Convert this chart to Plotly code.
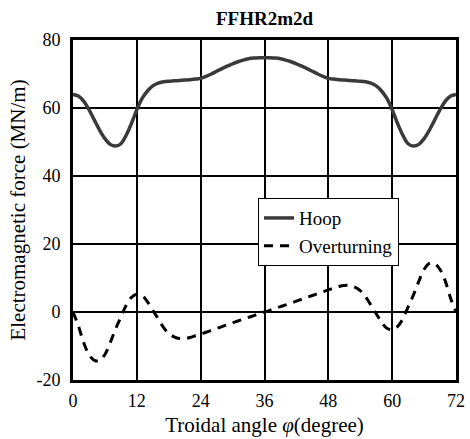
import plotly.graph_objects as go

angle = list(range(0, 73))

hoop_half = [64, 63.5, 62, 59.5, 56.5, 53.5, 51, 49.3, 48.8, 49.5, 52, 55.5, 59.5,
             62.8, 65, 66.5, 67.3, 67.7, 67.9, 68, 68.1, 68.2, 68.3, 68.5, 68.7,
             69.3, 70, 70.8, 71.6, 72.3, 73, 73.6, 74.1, 74.5, 74.7, 74.8, 74.8]
hoop = hoop_half + hoop_half[-2::-1]

over_half = [0, -4, -9, -12.5, -14.2, -14.3, -12.5, -9, -5, -1.5, 2, 4.3, 5.2,
             4.8, 3, 0.5, -2, -4.5, -6.3, -7.3, -7.8, -7.8, -7.5, -7, -6.5,
             -5.95, -5.4, -4.85, -4.3, -3.75, -3.2, -2.65, -2.1, -1.6, -1.05, -0.5, 0]
overturning = over_half + [-v for v in over_half[-2::-1]]

x_ticks = [0, 12, 24, 36, 48, 60, 72]
y_ticks = [-20, 0, 20, 40, 60, 80]
y_tick_text = ["-20", "0", "20", "40", "60", "80"]

serif = "Liberation Serif, Times New Roman, serif"

W, H = 470, 439
L, R, T, B = 73, 14, 40, 59

fig = go.Figure()
fig.add_trace(go.Scatter(x=angle, y=hoop, mode="lines", name="Hoop",
                         line=dict(color="#3a3a3a", width=3.5, shape="spline")))
fig.add_trace(go.Scatter(x=angle, y=overturning, mode="lines", name="Overturning",
                         line=dict(color="black", width=3, shape="spline", dash="9px,7px")))

fig.update_layout(
    template="none",
    width=W, height=H,
    margin=dict(l=L, r=R, t=T, b=B, autoexpand=False),
    paper_bgcolor="white", plot_bgcolor="white",
    font=dict(family=serif, color="black", size=18),
    title=dict(text="<b>FFHR2m2d</b>", x=(L + W - R) / 2 / W, xanchor="center",
               y=1 - 18 / H, yanchor="middle", font=dict(size=19, family=serif)),
    showlegend=True,
    legend=dict(x=0.483, y=0.535, xanchor="left", yanchor="top",
                bgcolor="white", bordercolor="black", borderwidth=1,
                font=dict(size=19, family=serif), tracegroupgap=0),
)
fig.update_xaxes(range=[0, 72], tickvals=x_ticks, showgrid=True, gridcolor="black",
                 gridwidth=2, showline=True, linecolor="black", linewidth=3, mirror=True,
                 zeroline=False, ticks="", automargin=False, ticklabelstandoff=2,
                 title=dict(text="Troidal angle <i>φ</i>(degree)\u00a0\u00a0\u00a0\u00a0",
                            font=dict(size=21), standoff=8),
                 tickfont=dict(size=18))
fig.update_yaxes(range=[-20, 80], tickvals=y_ticks, ticktext=y_tick_text, showgrid=True,
                 gridcolor="black", gridwidth=2, showline=True, linecolor="black",
                 linewidth=3, mirror=True, zeroline=False, ticks="", automargin=False,
                 ticklabelstandoff=6,
                 title=dict(text="\u00a0\u00a0\u00a0\u00a0Electromagnetic force (MN/m)",
                            font=dict(size=21), standoff=6),
                 tickfont=dict(size=18))

fig.write_html("out.html", config={"displayModeBar": False},
               post_script="document.body.style.margin='0';")
